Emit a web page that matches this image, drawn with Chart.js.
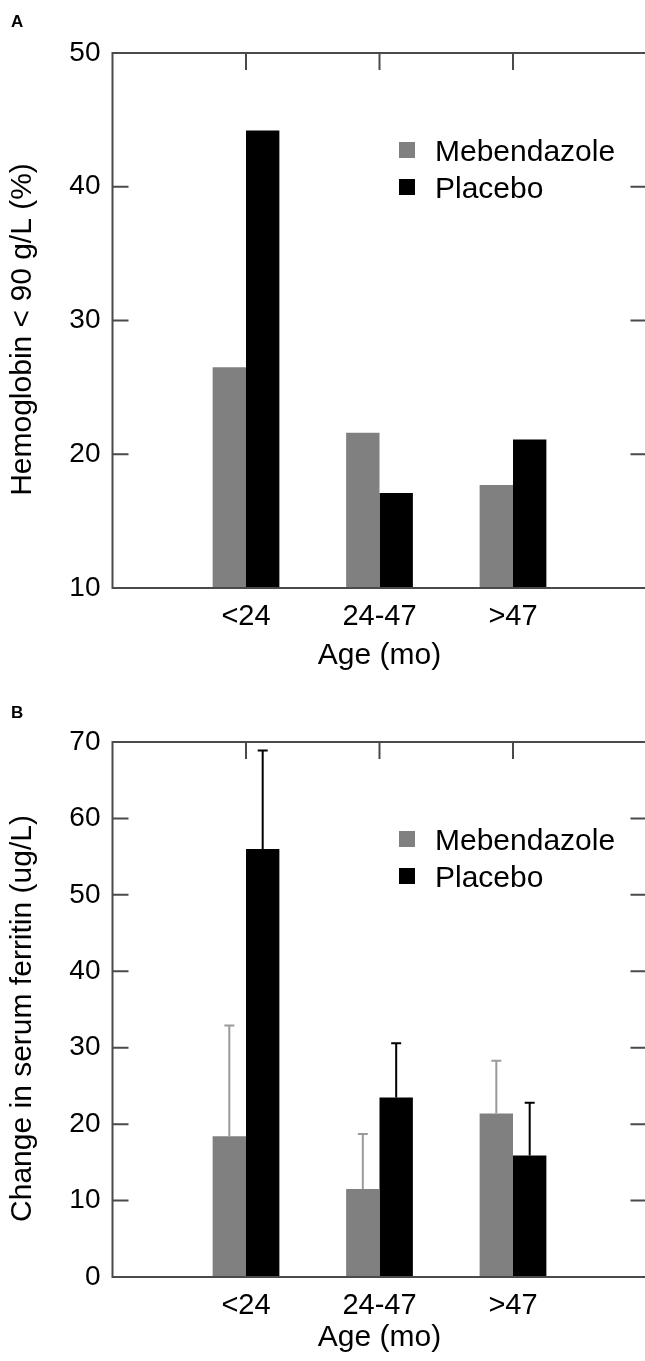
<!DOCTYPE html>
<html><head><meta charset="utf-8">
<script src="https://cdn.jsdelivr.net/npm/chart.js@4"></script>
<style>
html,body{margin:0;padding:0;background:#fff;overflow:hidden;width:645px;height:1361px;}
#wa{position:absolute;left:0;top:0;}
#wb{position:absolute;left:0;top:689px;}
</style></head><body>
<div id="wa"><canvas id="ca" width="660" height="689"></canvas></div>
<div id="wb"><canvas id="cb" width="660" height="672"></canvas></div>
<script>
// ---- data ----
const categories = ['<24', '24-47', '>47'];
const seriesNames = ['Mebendazole', 'Placebo'];
const hbMebendazole = [26.5, 21.6, 17.7];
const hbPlacebo = [44.2, 17.1, 21.1];
const ferritinMebendazole = [18.4, 11.5, 21.4];
const ferritinPlacebo = [56.0, 23.5, 15.9];
const ferritinMebendazoleErr = [14.5, 7.2, 6.9];
const ferritinPlaceboErr = [12.9, 7.1, 6.9];
const hbTicks = [10, 20, 30, 40, 50];
const ferritinTicks = [0, 10, 20, 30, 40, 50, 60, 70];

// ---- styling ----
const FONT = "'Liberation Sans', Arial, Helvetica, sans-serif";
const AXIS = '#4a4a4a';
const GRAY = '#808080';
const BLACK = '#000000';
const ERR_COLORS = ['#9a9a9a', '#000000'];

const padded = arr => [null, ...arr, null];
const xLabels = ['', ...categories, ''];

function makePlugin(letter, letterY, errs, yTitle) {
  return {
    id: 'deco' + letter,
    afterDatasetsDraw(chart) {
      const {ctx, chartArea: ca, scales: {x, y}} = chart;
      ctx.save();
      // error bars
      if (errs) {
        chart.data.datasets.forEach((ds, di) => {
          const meta = chart.getDatasetMeta(di);
          meta.data.forEach((el, j) => {
            const v = ds.data[j];
            if (v == null) return;
            const e = errs[di][j - 1];
            const yt = y.getPixelForValue(v + e);
            ctx.strokeStyle = ERR_COLORS[di];
            ctx.lineWidth = 2;
            ctx.beginPath();
            ctx.moveTo(el.x, el.y);
            ctx.lineTo(el.x, yt);
            ctx.moveTo(el.x - 5, yt);
            ctx.lineTo(el.x + 5, yt);
            ctx.stroke();
          });
        });
      }
      // frame
      ctx.strokeStyle = AXIS;
      ctx.lineWidth = 2;
      ctx.strokeRect(ca.left, ca.top, ca.right - ca.left, ca.bottom - ca.top);
      // inward ticks
      ctx.beginPath();
      y.ticks.forEach(t => {
        if (t.value === y.min) return;
        const py = y.getPixelForValue(t.value);
        ctx.moveTo(ca.left, py); ctx.lineTo(ca.left + 16, py);
        ctx.moveTo(ca.right - 16, py); ctx.lineTo(ca.right, py);
      });
      for (let i = 1; i <= categories.length; i++) {
        const px = x.getPixelForValue(i);
        ctx.moveTo(px, ca.top); ctx.lineTo(px, ca.top + 17);
      }
      ctx.stroke();
      // legend
      ctx.font = '30px ' + FONT;
      ctx.textBaseline = 'alphabetic';
      ctx.textAlign = 'left';
      chart.data.datasets.forEach((ds, di) => {
        const cy = 150 + di * 37;
        ctx.fillStyle = ds.backgroundColor;
        ctx.fillRect(399, cy - 8, 16, 16);
        ctx.fillStyle = '#000';
        ctx.fillText(ds.label, 435, cy + 10.7);
      });
      // y-axis title
      ctx.save();
      ctx.translate(22.5, (ca.top + ca.bottom) / 2 + 9);
      ctx.rotate(-Math.PI / 2);
      ctx.textAlign = 'center';
      ctx.textBaseline = 'middle';
      ctx.font = '30px ' + FONT;
      ctx.fillStyle = '#000';
      ctx.fillText(yTitle, 0, 0);
      ctx.restore();
      // panel letter
      ctx.font = 'bold 17px ' + FONT;
      ctx.fillStyle = '#000';
      ctx.textAlign = 'left';
      ctx.textBaseline = 'alphabetic';
      ctx.fillText(letter, 11, letterY);
      ctx.restore();
    }
  };
}

function makeChart(id, H, mebData, plaData, ticksArr, yTitle, errs, letter, letterY, xTitlePad) {
  return new Chart(document.getElementById(id), {
    type: 'bar',
    data: {
      labels: xLabels,
      datasets: [
        {label: seriesNames[0], data: padded(mebData), backgroundColor: GRAY, borderWidth: 0},
        {label: seriesNames[1], data: padded(plaData), backgroundColor: BLACK, borderWidth: 0}
      ]
    },
    options: {
      responsive: false,
      animation: false,
      devicePixelRatio: 1,
      layout: {padding: {top: 53, left: 0, right: 13.5, bottom: 0}},
      plugins: {legend: {display: false}, tooltip: {enabled: false}, title: {display: false}},
      datasets: {bar: {categoryPercentage: 0.5, barPercentage: 1.0}},
      scales: {
        x: {
          type: 'category',
          offset: false,
          grid: {display: false, drawTicks: false},
          border: {display: false},
          ticks: {autoSkip: false, maxRotation: 0, minRotation: 0, padding: 12, color: '#000', font: {family: FONT, size: 29}},
          title: {display: true, text: 'Age (mo)', color: '#000', font: {family: FONT, size: 30}, padding: {top: 0, bottom: xTitlePad}},
          afterFit(s) { s.height = H - 588; }
        },
        y: {
          min: ticksArr[0],
          max: ticksArr[ticksArr.length - 1],
          afterBuildTicks(s) { s.ticks = ticksArr.map(v => ({value: v})); },
          grid: {display: false, drawTicks: false},
          border: {display: false},
          ticks: {padding: 12, color: '#000', font: {family: FONT, size: 28}},
          title: {display: false},
          afterFit(s) { s.width = 112.5; }
        }
      }
    },
    plugins: [makePlugin(letter, letterY, errs, yTitle)]
  });
}

makeChart('ca', 689, hbMebendazole, hbPlacebo, hbTicks, 'Hemoglobin < 90 g/L (%)', null, 'A', 27, 15.6);
makeChart('cb', 672, ferritinMebendazole, ferritinPlacebo, ferritinTicks, 'Change in serum ferritin (ug/L)',
  [ferritinMebendazoleErr, ferritinPlaceboErr], 'B', 29, 5.6);
</script>
</body></html>
